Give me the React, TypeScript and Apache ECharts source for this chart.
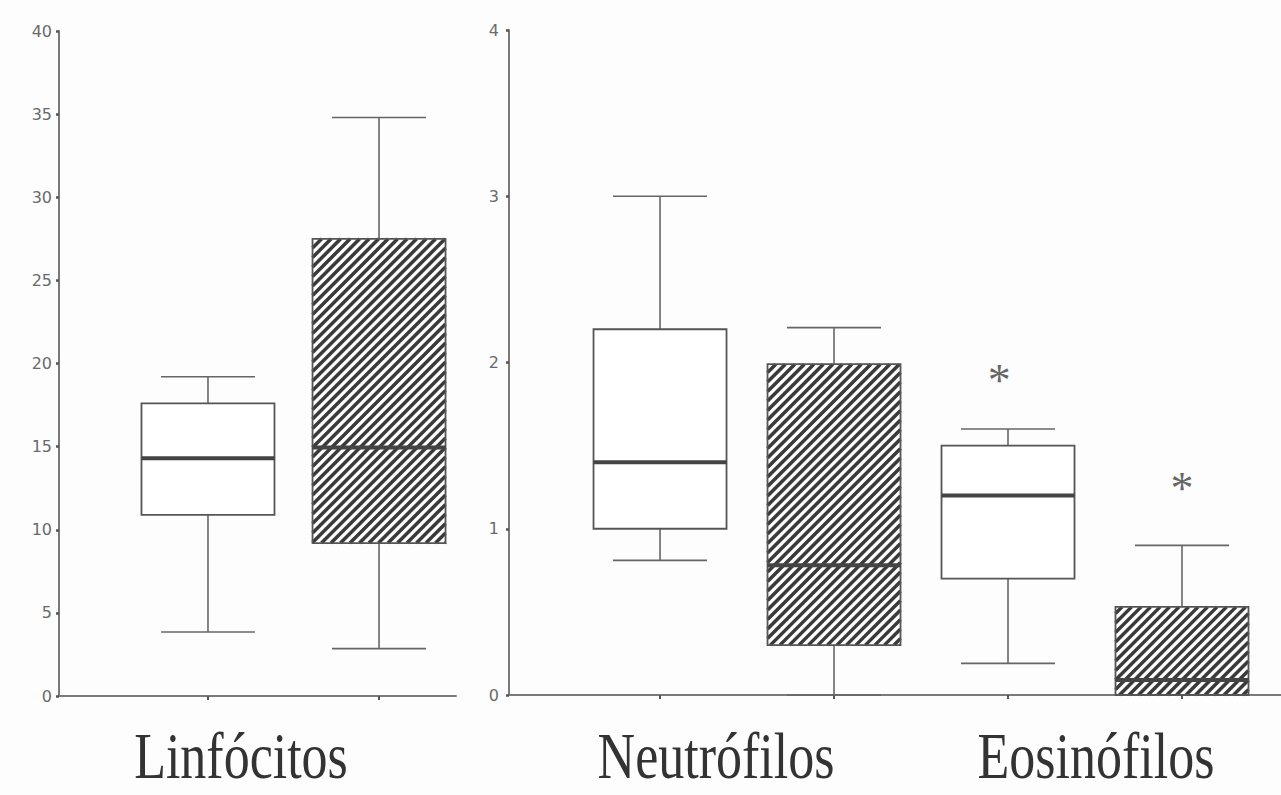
import React, { useEffect, useRef } from 'react';
import * as echarts from 'echarts';

// Group names shown under the panels
const groupNames = ['Linfócitos', 'Neutrófilos', 'Eosinófilos'];

// Five-number summaries [min, Q1, median, Q3, max]
const linfocitosControl = [3.85, 10.9, 14.3, 17.6, 19.2];
const linfocitosHatched = [2.85, 9.2, 14.95, 27.5, 34.8];
const neutrofilosControl = [0.81, 1.0, 1.4, 2.2, 3.0];
const neutrofilosHatched = [0, 0.3, 0.78, 1.99, 2.21];
const eosinofilosControl = [0.19, 0.7, 1.2, 1.5, 1.6];
const eosinofilosHatched = [0, 0, 0.09, 0.53, 0.9];

// Box positions along each panel's x scale
const leftPositions = [1, 2];
const rightPositions = [1, 2, 3, 4];

// Significance markers [x, y] in the right panel
const asterisks = [
  [2.95, 1.93],
  [4, 1.28],
];

const leftYMax = 40;
const leftYStep = 5;
const rightYMax = 4;
const rightYStep = 1;

const BOX_W = 133;
const CAP_W = 94;
const HATCH_P = 9.5;
const AXIS_COLOR = '#7a7a7a';
const LABEL_COLOR = '#6a6a6a';
const BOX_COLOR = '#555';
const WHISK_COLOR = '#666';
const MED_COLOR = '#444';
const HATCH_COLOR = '#3a3a3a';

function renderBox(params: any, api: any) {
  const x = api.value(0);
  const mn = api.value(1);
  const q1 = api.value(2);
  const md = api.value(3);
  const q3 = api.value(4);
  const mx = api.value(5);
  const hatched = api.value(6) === 1;
  const cx = api.coord([x, mn])[0];
  const yMin = api.coord([x, mn])[1];
  const yQ1 = api.coord([x, q1])[1];
  const yMd = api.coord([x, md])[1];
  const yQ3 = api.coord([x, q3])[1];
  const yMax = api.coord([x, mx])[1];
  const half = BOX_W / 2;
  const capHalf = CAP_W / 2;
  const children: any[] = [];
  const wStyle = { stroke: WHISK_COLOR, lineWidth: 1.6 };
  if (yMax < yQ3) {
    children.push({ type: 'line', shape: { x1: cx, y1: yMax, x2: cx, y2: yQ3 }, style: wStyle });
    children.push({ type: 'line', shape: { x1: cx - capHalf, y1: yMax, x2: cx + capHalf, y2: yMax }, style: wStyle });
  }
  if (yMin > yQ1) {
    children.push({ type: 'line', shape: { x1: cx, y1: yQ1, x2: cx, y2: yMin }, style: wStyle });
    children.push({ type: 'line', shape: { x1: cx - capHalf, y1: yMin, x2: cx + capHalf, y2: yMin }, style: wStyle });
  }
  const x0 = cx - half;
  const y0 = yQ3;
  const w = BOX_W;
  const h = yQ1 - yQ3;
  children.push({ type: 'rect', shape: { x: x0, y: y0, width: w, height: h }, style: { fill: '#fff', stroke: 'none' } });
  if (hatched) {
    const cStart = Math.ceil((x0 + y0) / HATCH_P) * HATCH_P;
    const cEnd = x0 + w + y0 + h;
    for (let c = cStart; c < cEnd; c += HATCH_P) {
      const xa = Math.max(x0, c - (y0 + h));
      const xb = Math.min(x0 + w, c - y0);
      if (xb - xa > 0.5) {
        children.push({
          type: 'line',
          shape: { x1: xa, y1: c - xa, x2: xb, y2: c - xb },
          style: { stroke: HATCH_COLOR, lineWidth: 3.5, lineCap: 'butt' },
        });
      }
    }
  }
  children.push({
    type: 'rect',
    shape: { x: x0, y: y0, width: w, height: h },
    style: { fill: 'none', stroke: BOX_COLOR, lineWidth: 1.8 },
  });
  children.push({
    type: 'line',
    shape: { x1: x0, y1: yMd, x2: x0 + w, y2: yMd },
    style: { stroke: MED_COLOR, lineWidth: 4 },
  });
  return { type: 'group', children };
}

function boxData(positions: number[], stats: number[][], hatchFlags: number[]) {
  return positions.map((p, i) => [p, ...stats[i], hatchFlags[i]]);
}

export default function App() {
  const ref = useRef<HTMLDivElement>(null);
  useEffect(() => {
    if (!ref.current) return;
    const chart = echarts.init(ref.current, undefined, { renderer: 'svg' });
    const yAxisCommon = {
      type: 'value',
      min: 0,
      axisLine: { show: true, lineStyle: { color: AXIS_COLOR, width: 2 } },
      axisTick: { show: true, length: 3, lineStyle: { color: '#555', width: 2.5 } },
      axisLabel: { color: LABEL_COLOR, fontSize: 16, fontFamily: 'DejaVu Sans' },
      splitLine: { show: false },
    };
    const xAxisCommon = {
      type: 'value',
      axisLine: { show: true, onZero: false, lineStyle: { color: AXIS_COLOR, width: 2 } },
      axisLabel: { show: false },
      splitLine: { show: false },
    };
    const option: any = {
      animation: false,
      backgroundColor: '#fdfdfd',
      grid: [
        { left: 59, top: 31, width: 397, bottom: 99 },
        { left: 509, top: 30, right: 0, bottom: 100 },
      ],
      xAxis: [
        {
          ...xAxisCommon,
          gridIndex: 0,
          min: 0.129,
          max: 2.45,
          axisTick: { show: true, customValues: leftPositions, length: 4, lineStyle: { color: '#555', width: 2 } },
        },
        {
          ...xAxisCommon,
          gridIndex: 1,
          min: 0.132,
          max: 4.569,
          axisTick: { show: true, customValues: rightPositions, length: 4, lineStyle: { color: '#555', width: 2 } },
        },
      ],
      yAxis: [
        { ...yAxisCommon, gridIndex: 0, max: leftYMax, interval: leftYStep, axisLabel: { ...yAxisCommon.axisLabel, margin: 7 } },
        { ...yAxisCommon, gridIndex: 1, max: rightYMax, interval: rightYStep, axisLabel: { ...yAxisCommon.axisLabel, margin: 10 } },
      ],
      series: [
        {
          type: 'custom',
          xAxisIndex: 0,
          yAxisIndex: 0,
          renderItem: renderBox,
          data: boxData(leftPositions, [linfocitosControl, linfocitosHatched], [0, 1]),
          silent: true,
        },
        {
          type: 'custom',
          xAxisIndex: 1,
          yAxisIndex: 1,
          renderItem: renderBox,
          data: boxData(
            rightPositions,
            [neutrofilosControl, neutrofilosHatched, eosinofilosControl, eosinofilosHatched],
            [0, 1, 0, 1]
          ),
          silent: true,
        },
        {
          type: 'scatter',
          xAxisIndex: 1,
          yAxisIndex: 1,
          data: asterisks,
          symbolSize: 1,
          itemStyle: { color: 'rgba(0,0,0,0)' },
          silent: true,
          label: {
            show: true,
            position: 'inside',
            formatter: '*',
            fontSize: 46,
            fontFamily: 'Liberation Serif',
            color: '#3e3e3e',
            offset: [0, 6],
          },
        },
      ],
      graphic: [
        { cx: 241, name: groupNames[0] },
        { cx: 716, name: groupNames[1] },
        { cx: 1096, name: groupNames[2] },
      ].map((g) => ({
        type: 'text',
        x: g.cx,
        y: 789,
        scaleY: 1.28,
        style: {
          text: g.name,
          x: 0,
          y: 0,
          textAlign: 'center',
          textVerticalAlign: 'bottom',
          fontSize: 52,
          fontFamily: 'Liberation Serif',
          fill: '#333',
        },
      })),
    };
    chart.setOption(option);
    return () => chart.dispose();
  }, []);
  return (
    <div
      ref={ref}
      style={{ position: 'fixed', left: 0, top: 0, width: 1281, height: 795 }}
    />
  );
}
